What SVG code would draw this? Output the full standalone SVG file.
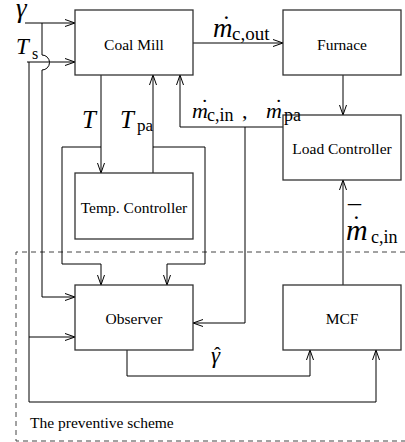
<svg xmlns="http://www.w3.org/2000/svg" width="405" height="442" viewBox="0 0 405 442">
<defs>
<marker id="arr" markerUnits="userSpaceOnUse" markerWidth="12" markerHeight="10" refX="10" refY="4" orient="auto">
<path d="M0,0.5 L10,4 L0,7.5" fill="none" stroke="#000" stroke-width="1"/>
</marker>
</defs>
<style>
.box{fill:#fff;stroke:#333;stroke-width:1.3}
.lbl{font-family:"Liberation Serif","Times New Roman",serif;font-size:15.5px;text-anchor:middle;fill:#000}
.c{fill:none;stroke:#000;stroke-width:1}
.a{marker-end:url(#arr)}
.m{font-family:"Liberation Serif","Times New Roman",serif;font-style:italic;fill:#000}
.s{font-family:"Liberation Serif","Times New Roman",serif;fill:#000}
.dash{fill:none;stroke:#444;stroke-width:1;stroke-dasharray:5,4}
</style>
<rect width="405" height="442" fill="#fff"/>
<path class="dash" d="M405,252 H16 V441 H405"/>
<g id="connectors">
<path class="c a" d="M25,23 H75"/>
<path class="c a" d="M42,23 V55 A7.5 7.5 0 0 1 42 70 V297 H75"/>
<path class="c a" d="M27,62 H75"/>
<path class="c a" d="M29,62 V402 H376 V350"/>
<path class="c a" d="M29,337 H75"/>
<path class="c a" d="M193,43 H283"/>
<path class="c a" d="M343,75 V115"/>
<path class="c a" d="M283,127 H180 V75"/>
<path class="c a" d="M245,127 V323 H193"/>
<path class="c a" d="M101,75 V173"/>
<path class="c a" d="M101,147 H62 V264 H101 V285"/>
<path class="c a" d="M153,173 V75"/>
<path class="c a" d="M153,147 H205 V264 H167 V285"/>
<path class="c a" d="M127,350 V376 H310 V350"/>
<path class="c a" d="M343,285 V180"/>
</g>
<g id="coal-mill"><rect class="box" x="75" y="10" width="118" height="65"/><text class="lbl" x="134" y="50">Coal Mill</text></g>
<g id="furnace"><rect class="box" x="283" y="10" width="118" height="65"/><text class="lbl" x="342" y="50">Furnace</text></g>
<g id="load-controller"><rect class="box" x="283" y="115" width="118" height="65"/><text class="lbl" x="342" y="154">Load Controller</text></g>
<g id="temp-controller"><rect class="box" x="75" y="173" width="118" height="66"/><text class="lbl" x="134" y="213">Temp. Controller</text></g>
<g id="observer"><rect class="box" x="75" y="285" width="118" height="65"/><text class="lbl" x="134" y="324">Observer</text></g>
<g id="mcf"><rect class="box" x="283" y="285" width="118" height="65"/><text class="lbl" x="342" y="324">MCF</text></g>
<g id="labels">
<text class="m" x="16" y="17" font-size="27">γ</text>
<text class="m" x="16" y="54" font-size="23">T</text><text class="s" x="32" y="59" font-size="16">s</text>
<text class="m" x="82" y="128" font-size="25">T</text>
<text class="m" x="120" y="128" font-size="25">T</text><text class="s" x="137" y="131" font-size="17">pa</text>
<text class="m" x="213" y="37" font-size="27">m</text><text class="s" x="222" y="33" font-size="26">˙</text><text class="s" x="232" y="40" font-size="19">c,out</text>
<text class="m" x="192" y="118" font-size="22">m</text><text class="s" x="201" y="114" font-size="22">˙</text><text class="s" x="207" y="121" font-size="18">c,in</text><text class="s" x="242" y="118" font-size="22">,</text>
<text class="m" x="266" y="118" font-size="22">m</text><text class="s" x="275" y="114" font-size="22">˙</text><text class="s" x="284" y="121" font-size="18">pa</text>
<text class="m" x="346" y="240" font-size="30">m</text><text class="s" x="352" y="233" font-size="26">˙</text><text class="s" x="348" y="223" font-size="26">¯</text><text class="s" x="371" y="243" font-size="18">c,in</text>
<text class="m" x="211" y="363" font-size="23">γ</text><text class="s" x="214" y="362" font-size="20">ˆ</text>
<text class="s" x="30" y="428" font-size="15.5">The preventive scheme</text>
</g>
</svg>
